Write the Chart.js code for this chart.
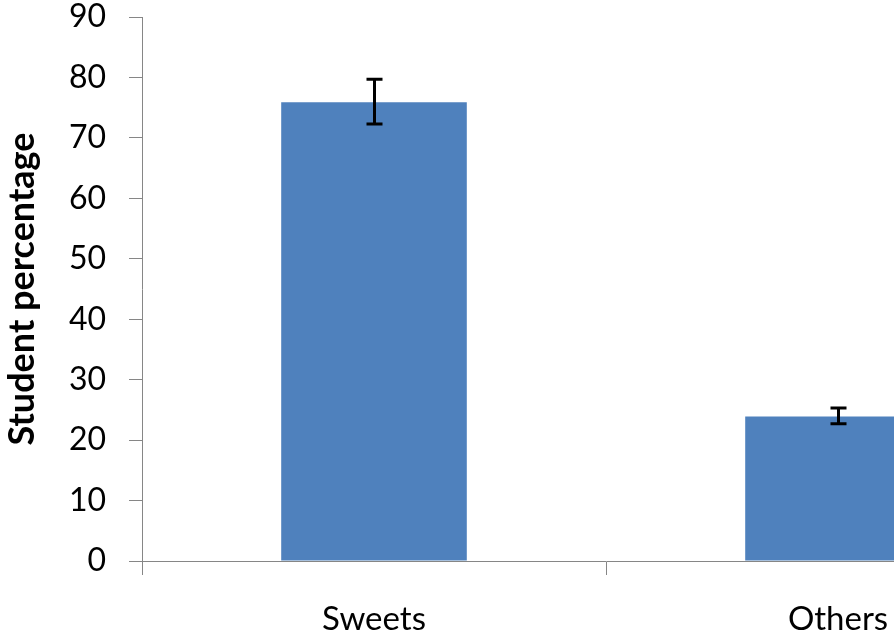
<!DOCTYPE html>
<html><head><meta charset="utf-8">
<script src="https://cdn.jsdelivr.net/npm/chart.js@4/dist/chart.umd.min.js"></script>
<style>
html,body{margin:0;padding:0;background:#fff;overflow:hidden;width:894px;height:636px;}
#wrap{position:absolute;left:0;top:0;width:1080px;height:636px;}
</style></head><body>
<div id="wrap"><canvas id="c"></canvas></div>
<script>
const categories = ['Sweets', 'Others'];
const values = [75.9, 23.9];
const errUpper = [79.7, 25.3];
const errLower = [72.3, 22.7];
const yAxisTitle = 'Student percentage';
const yMin = 0, yMax = 90, yStep = 10;

const axisGray = '#868686';
const fontFam = 'Lato, "Open Sans", sans-serif';

const errorBars = {
  id: 'errorBars',
  afterDatasetsDraw(chart) {
    const meta = chart.getDatasetMeta(0);
    const ys = chart.scales.y;
    const ctx = chart.ctx;
    ctx.save();
    ctx.strokeStyle = '#000';
    ctx.lineWidth = 3;
    meta.data.forEach((bar, i) => {
      const x = Math.round(bar.x) + 0.5;
      const yt = ys.getPixelForValue(errUpper[i]);
      const yb = ys.getPixelForValue(errLower[i]);
      ctx.beginPath();
      ctx.moveTo(x, yt); ctx.lineTo(x, yb);
      ctx.moveTo(x - 8, yt); ctx.lineTo(x + 8, yt);
      ctx.moveTo(x - 8, yb); ctx.lineTo(x + 8, yb);
      ctx.stroke();
    });
    ctx.restore();
  }
};

const yTitle = {
  id: 'yTitle',
  afterDraw(chart) {
    const ctx = chart.ctx;
    const a = chart.chartArea;
    ctx.save();
    ctx.translate(22, (a.top + a.bottom) / 2);
    ctx.rotate(-Math.PI / 2);
    ctx.textAlign = 'center';
    ctx.textBaseline = 'middle';
    ctx.fillStyle = '#000';
    ctx.font = 'bold 36px ' + fontFam;
    ctx.fillText(yAxisTitle, 0, 0);
    ctx.restore();
  }
};

new Chart(document.getElementById('c'), {
  type: 'bar',
  data: {
    labels: categories,
    datasets: [{
      data: values,
      backgroundColor: '#4F81BD',
      borderWidth: 0,
      categoryPercentage: 1.0,
      barPercentage: 0.4
    }]
  },
  options: {
    responsive: true,
    maintainAspectRatio: false,
    animation: false,
    layout: { padding: { top: 17, right: 10, left: 0, bottom: 0 } },
    plugins: { legend: { display: false }, tooltip: { enabled: false } },
    scales: {
      x: {
        afterFit(s) { s.height = 75; s.paddingLeft = 0; s.paddingRight = 0; },
        grid: { offset: true, drawOnChartArea: false, drawTicks: true, tickLength: 14, color: axisGray, lineWidth: 1 },
        border: { color: axisGray, width: 1 },
        ticks: { color: '#000', padding: 25, font: { family: fontFam, size: 33 } }
      },
      y: {
        min: yMin, max: yMax,
        afterFit(s) { s.width = 142; s.paddingTop = 0; s.paddingBottom = 0; },
        grid: { drawOnChartArea: false, drawTicks: true, tickLength: 13, color: axisGray, lineWidth: 1 },
        border: { color: axisGray, width: 1 },
        ticks: { stepSize: yStep, color: '#000', padding: 23, font: { family: fontFam, size: 32 } }
      }
    }
  },
  plugins: [errorBars, yTitle]
});
</script>
</body></html>
